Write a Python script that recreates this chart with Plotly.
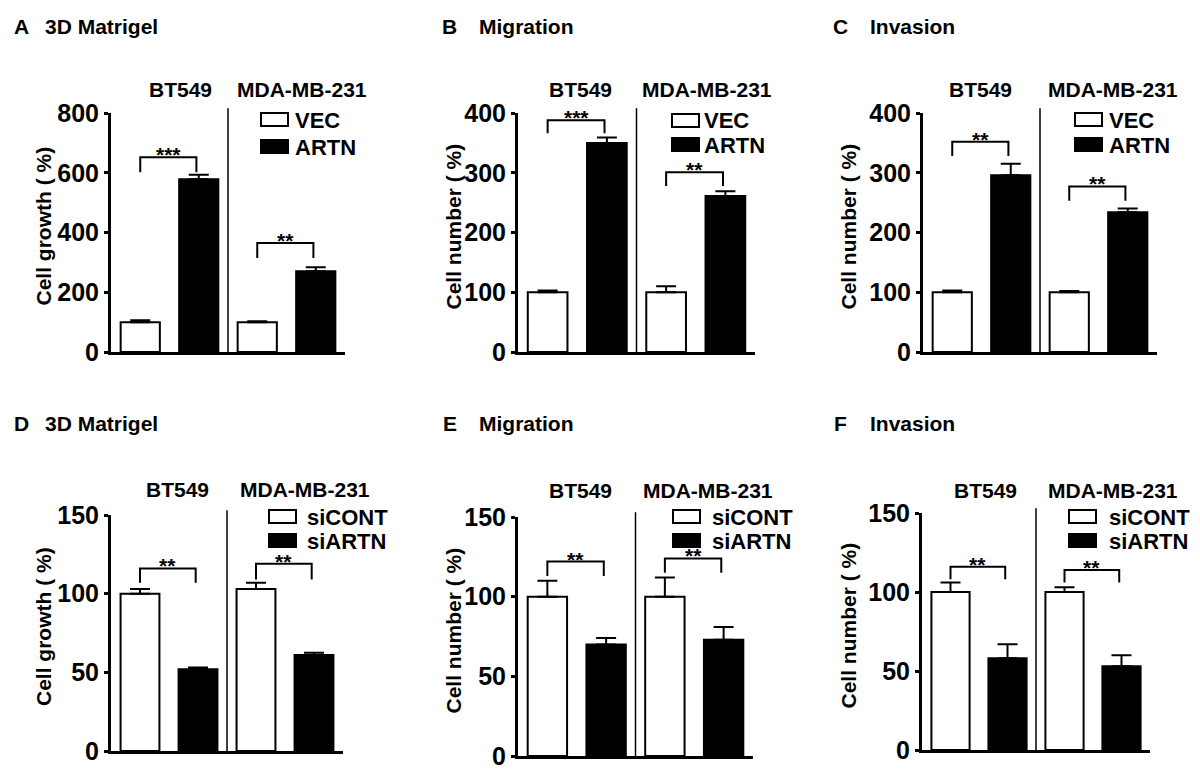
import plotly.graph_objects as go

W, H = 1200, 774
FONT = "Liberation Sans, Arial, Helvetica, sans-serif"

cell_lines = ["BT549", "MDA-MB-231"]

# ---------------- data ----------------
# Panel A: 3D Matrigel, overexpression
a_ctrl = [100, 100]
a_ctrl_err = [6, 3]
a_trt = [578, 270]
a_trt_err = [15, 14]
a_br_low = [602, 315]
a_br_top = [652, 365]
a_stars = ["***", "**"]

# Panel B: Migration, overexpression
b_ctrl = [100, 100]
b_ctrl_err = [3, 10]
b_trt = [350, 261]
b_trt_err = [9, 8]
b_br_low = [366, 278]
b_br_top = [388, 301]
b_stars = ["***", "**"]

# Panel C: Invasion, overexpression
c_ctrl = [100, 100]
c_ctrl_err = [3, 2]
c_trt = [296, 234]
c_trt_err = [19, 6]
c_br_low = [328, 253]
c_br_top = [352, 277]
c_stars = ["**", "**"]

# Panel D: 3D Matrigel, knockdown
d_ctrl = [100, 103]
d_ctrl_err = [3, 4]
d_trt = [52, 61]
d_trt_err = [1, 1.5]
d_br_low = [107, 109]
d_br_top = [116, 119]
d_stars = ["**", "**"]

# Panel E: Migration, knockdown
e_ctrl = [100, 100]
e_ctrl_err = [10, 12]
e_trt = [70, 73]
e_trt_err = [4, 8]
e_br_low = [113, 115]
e_br_top = [122, 124]
e_stars = ["**", "**"]

# Panel F: Invasion, knockdown
f_ctrl = [100, 100]
f_ctrl_err = [6, 3]
f_trt = [58, 53]
f_trt_err = [9, 7]
f_br_low = [108, 106]
f_br_top = [116, 114]
f_stars = ["**", "**"]

over_names = ["VEC", "ARTN"]
knock_names = ["siCONT", "siARTN"]
ticks_800 = [0, 200, 400, 600, 800]
ticks_400 = [0, 100, 200, 300, 400]
ticks_150 = [0, 50, 100, 150]

# ---------------- layout of panels (pixel geometry) ----------------
panels = [
    dict(letter="A", name="3D Matrigel", ylab="Cell growth ( %)", names=over_names,
         ctrl=a_ctrl, ctrl_err=a_ctrl_err, trt=a_trt, trt_err=a_trt_err,
         br_low=a_br_low, br_top=a_br_top, stars=a_stars, ymax=800, ticks=ticks_800,
         dom=(111, 345, 113, 352), title_x=(12, 43), title_y=27, ylab_x=43,
         lab_x=(180, 302), lab_y=90, leg_x=261, leg_y=(113, 140), leg_tx=293),
    dict(letter="B", name="Migration", ylab="Cell number ( %)", names=over_names,
         ctrl=b_ctrl, ctrl_err=b_ctrl_err, trt=b_trt, trt_err=b_trt_err,
         br_low=b_br_low, br_top=b_br_top, stars=b_stars, ymax=400, ticks=ticks_400,
         dom=(518, 755, 113, 352), title_x=(440, 477), title_y=27, ylab_x=453,
         lab_x=(580, 707), lab_y=90, leg_x=672, leg_y=(114, 138), leg_tx=702),
    dict(letter="C", name="Invasion", ylab="Cell number ( %)", names=over_names,
         ctrl=c_ctrl, ctrl_err=c_ctrl_err, trt=c_trt, trt_err=c_trt_err,
         br_low=c_br_low, br_top=c_br_top, stars=c_stars, ymax=400, ticks=ticks_400,
         dom=(923, 1157, 113, 352), title_x=(831, 868), title_y=27, ylab_x=848,
         lab_x=(980, 1113), lab_y=90, leg_x=1075, leg_y=(113, 138), leg_tx=1107),
    dict(letter="D", name="3D Matrigel", ylab="Cell growth ( %)", names=knock_names,
         ctrl=d_ctrl, ctrl_err=d_ctrl_err, trt=d_trt, trt_err=d_trt_err,
         br_low=d_br_low, br_top=d_br_top, stars=d_stars, ymax=150, ticks=ticks_150,
         dom=(111, 343, 515, 751), title_x=(12, 43), title_y=423, ylab_x=43,
         lab_x=(177, 305), lab_y=489, leg_x=269, leg_y=(510, 534), leg_tx=305),
    dict(letter="E", name="Migration", ylab="Cell number ( %)", names=knock_names,
         ctrl=e_ctrl, ctrl_err=e_ctrl_err, trt=e_trt, trt_err=e_trt_err,
         br_low=e_br_low, br_top=e_br_top, stars=e_stars, ymax=150, ticks=ticks_150,
         dom=(518, 753, 517, 756), title_x=(441, 477), title_y=423, ylab_x=453,
         lab_x=(580, 708), lab_y=490, leg_x=673, leg_y=(510, 534), leg_tx=710),
    dict(letter="F", name="Invasion", ylab="Cell number ( %)", names=knock_names,
         ctrl=f_ctrl, ctrl_err=f_ctrl_err, trt=f_trt, trt_err=f_trt_err,
         br_low=f_br_low, br_top=f_br_top, stars=f_stars, ymax=150, ticks=ticks_150,
         dom=(922, 1150, 513, 750), title_x=(832, 868), title_y=423, ylab_x=848,
         lab_x=(985, 1113), lab_y=490, leg_x=1069, leg_y=(510, 534), leg_tx=1107),
]


def px(x):
    return x / W


def py(y):
    return 1 - y / H


def bold(size):
    return dict(family=FONT, size=size, color="black", weight="bold")


fig = go.Figure()
annotations = []
shapes = []
layout_axes = {}

BAR_W = 0.67

for i, p in enumerate(panels):
    n = "" if i == 0 else str(i + 1)
    xa, ya = "x" + n, "y" + n
    x0, x1, ytop, ybot = p["dom"]

    ctrl_x = [0, 2]
    trt_x = [1, 3]

    fig.add_trace(go.Bar(
        x=ctrl_x, y=p["ctrl"], width=BAR_W, xaxis=xa, yaxis=ya,
        marker=dict(color="white", line=dict(color="black", width=2)),
        error_y=dict(type="data", symmetric=False, array=p["ctrl_err"],
                     arrayminus=[0, 0], color="black", thickness=2, width=10),
        name=p["names"][0], showlegend=False))
    fig.add_trace(go.Bar(
        x=trt_x, y=p["trt"], width=BAR_W, xaxis=xa, yaxis=ya,
        marker=dict(color="black", line=dict(color="black", width=2)),
        error_y=dict(type="data", symmetric=False, array=p["trt_err"],
                     arrayminus=[0, 0], color="black", thickness=2, width=10),
        name=p["names"][1], showlegend=False))

    # significance brackets
    for j in range(2):
        bx0, bx1 = ctrl_x[j], trt_x[j] - 0.04
        lo, top = p["br_low"][j], p["br_top"][j]
        fig.add_trace(go.Scatter(
            x=[bx0, bx0, bx1, bx1], y=[lo, top, top, lo], mode="lines",
            line=dict(color="black", width=2), xaxis=xa, yaxis=ya,
            showlegend=False, hoverinfo="skip"))
        annotations.append(dict(
            x=(bx0 + bx1) / 2, y=top, xref=xa, yref=ya, text=p["stars"][j],
            showarrow=False, xanchor="center", yanchor="bottom", yshift=-11,
            font=bold(21)))

    layout_axes["xaxis" + n] = dict(
        domain=[px(x0), px(x1)], anchor=ya, range=[-0.5, 3.5], automargin=False,
        showticklabels=False, ticks="", showgrid=False, zeroline=False,
        showline=True, linecolor="black", linewidth=3, fixedrange=True)
    layout_axes["yaxis" + n] = dict(
        domain=[py(ybot), py(ytop)], anchor=xa, range=[0, p["ymax"]], automargin=False,
        tickvals=p["ticks"], ticks="outside", ticklen=4, tickwidth=3,
        tickcolor="black", tickfont=bold(25), ticklabelstandoff=0,
        showgrid=False, zeroline=False, showline=True, linecolor="black",
        linewidth=3, fixedrange=True)

    # divider between cell lines
    shapes.append(dict(type="line", xref=xa, yref=ya + " domain", x0=1.5, x1=1.5,
                       y0=0, y1=1.02, line=dict(color="black", width=1.5)))

    # panel title
    annotations.append(dict(x=px(p["title_x"][0]), y=py(p["title_y"]), xref="paper",
                            yref="paper", text=p["letter"], showarrow=False,
                            xanchor="left", yanchor="middle", font=bold(21)))
    annotations.append(dict(x=px(p["title_x"][1]), y=py(p["title_y"]), xref="paper",
                            yref="paper", text=p["name"], showarrow=False,
                            xanchor="left", yanchor="middle", font=bold(21)))

    # y-axis title
    annotations.append(dict(x=px(p["ylab_x"]), y=py((ytop + ybot) / 2 - 6), xref="paper",
                            yref="paper", text=p["ylab"], textangle=-90, showarrow=False,
                            xanchor="center", yanchor="middle", font=bold(21)))

    # cell line labels
    for j in range(2):
        annotations.append(dict(x=px(p["lab_x"][j]), y=py(p["lab_y"]), xref="paper",
                                yref="paper", text=cell_lines[j], showarrow=False,
                                xanchor="center", yanchor="middle", font=bold(21)))

    # legend
    for j in range(2):
        ly = p["leg_y"][j]
        shapes.append(dict(type="rect", xref="paper", yref="paper",
                           x0=px(p["leg_x"]), x1=px(p["leg_x"] + 27),
                           y0=py(ly + 13), y1=py(ly),
                           fillcolor="white" if j == 0 else "black",
                           line=dict(color="black", width=2)))
        annotations.append(dict(x=px(p["leg_tx"]), y=py(ly + 7), xref="paper",
                                yref="paper", text=p["names"][j], showarrow=False,
                                xanchor="left", yanchor="middle", font=bold(22)))

fig.update_layout(
    width=W, height=H, margin=dict(l=0, r=0, t=0, b=0, autoexpand=False),
    paper_bgcolor="white", plot_bgcolor="white", showlegend=False,
    barmode="overlay", annotations=annotations, shapes=shapes,
    font=dict(family=FONT, color="black"), **layout_axes)

fig.write_html("out.html", config={"displayModeBar": False},
               post_script="document.body.style.margin='0';document.body.style.overflow='hidden';")
